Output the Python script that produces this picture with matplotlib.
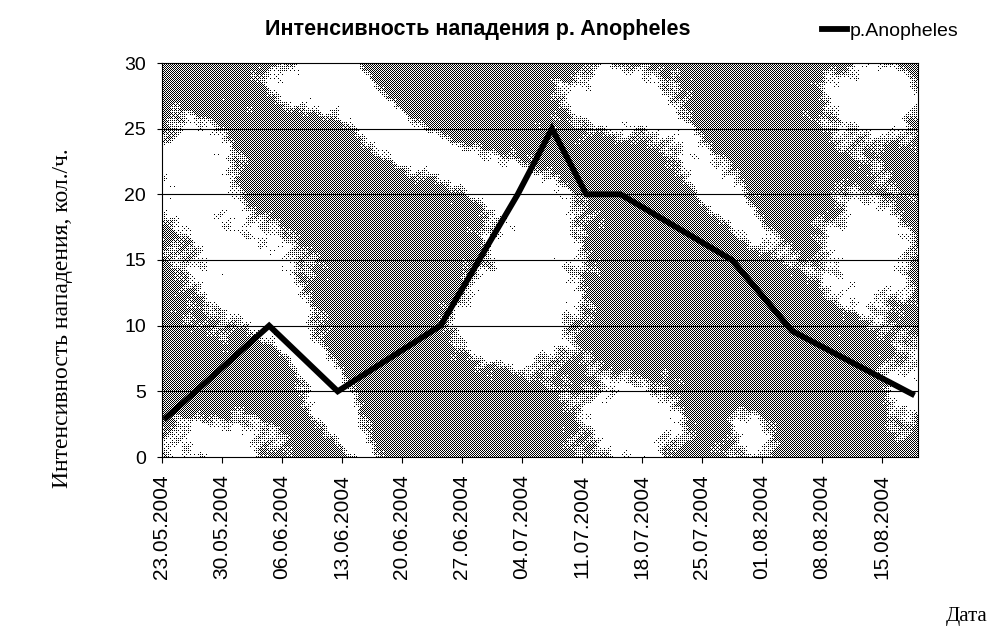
import numpy as np
import matplotlib
matplotlib.use('Agg')
from matplotlib import pyplot as plt
import matplotlib.dates as mdates

plt.rcParams['font.family'] = ['Liberation Sans', 'DejaVu Sans']

# Даты учётов и интенсивность нападения
dates = ['2004-05-23', '2004-06-04', '2004-06-12', '2004-06-24', '2004-07-03',
         '2004-07-07', '2004-07-11', '2004-07-15', '2004-07-28', '2004-08-04',
         '2004-08-18']
values = [3, 10, 5, 10, 20, 25, 20, 20, 15, 9.6, 4.8]

tick_dates = ['2004-05-23', '2004-05-30', '2004-06-06', '2004-06-13', '2004-06-20',
              '2004-06-27', '2004-07-04', '2004-07-11', '2004-07-18', '2004-07-25',
              '2004-08-01', '2004-08-08', '2004-08-15']
y_ticks = [0, 5, 10, 15, 20, 25, 30]

title = 'Интенсивность нападения р. Anopheles'
series_name = 'р.Anopheles'
y_label = 'Интенсивность нападения, кол./ч.'
x_label = 'Дата'

W, H = 993, 630
fig = plt.figure(figsize=(W / 100, H / 100), dpi=100)
ax = fig.add_axes([162 / W, 1 - 457 / H, 756 / W, 394 / H])

x = mdates.date2num(np.array(dates, dtype='datetime64[D]'))
xt = mdates.date2num(np.array(tick_dates, dtype='datetime64[D]')) - 0.5
x0 = xt[0]
x1 = x0 + 88.2


# фоновая текстура области построения (упорядоченный дизеринг)
def texture(w, h):
    yy, xx = np.mgrid[0:h, 0:w].astype(float)
    blobs = [
        # x, y, длинная ось, короткая ось, угол, сила
        (30, 105, 35, 45, 0, 1.0),
        (85, 215, 55, 50, 10, 0.9),
        (140, 20, 40, 25, 0, 0.8),
        (195, 30, 60, 16, -50, 1.0),
        (295, 100, 70, 18, -25, 1.0),
        (370, 210, 45, 70, 0, 1.0),
        (330, 265, 35, 25, 0, 0.9),
        (170, 335, 75, 18, -60, 1.0),
        (55, 380, 55, 25, 0, 0.9),
        (455, 35, 50, 30, 0, 1.0),
        (560, 130, 65, 18, -50, 1.0),
        (710, 35, 45, 35, 0, 1.0),
        (705, 190, 40, 55, 0, 1.0),
        (470, 360, 45, 40, 0, 1.0),
        (590, 375, 22, 28, 0, 0.8),
        (745, 330, 22, 38, 0, 0.8),
    ]
    f = np.zeros((h, w))
    for cx, cy, a, b, ang, s in blobs:
        t = np.deg2rad(ang)
        dx, dy = xx - cx, yy - cy
        u = dx * np.cos(t) - dy * np.sin(t)
        v = dx * np.sin(t) + dy * np.cos(t)
        f += s * np.exp(-0.5 * ((u / a) ** 2 + (v / b) ** 2))
    f += 0.12 * np.sin(xx / 4.0 + 1.7 * np.sin(yy / 6.0)) * np.cos(yy / 5.0 + xx / 13.0)
    f += 0.08 * np.sin(xx / 11.0 - yy / 8.0)
    f = np.clip((f - 0.42) / 0.3, 0, 1)
    level = 0.5 + 0.5 * f
    bayer = np.array([[0, 8, 2, 10], [12, 4, 14, 6], [3, 11, 1, 9], [15, 7, 13, 5]])
    thr = (bayer + 0.5) / 16
    return (level > thr[yy.astype(int) % 4, xx.astype(int) % 4]).astype(float)


ax.imshow(texture(756, 394), extent=(x0, x1, 0, 30), aspect='auto',
          cmap='gray', vmin=0, vmax=1, interpolation='nearest', zorder=0)

for yv in y_ticks[1:-1]:
    ax.axhline(yv, color='black', lw=0.8, zorder=1)

ax.plot(x, values, color='black', lw=4.2, solid_joinstyle='miter', label=series_name, zorder=3)

ax.set_xlim(x0, x1)
ax.set_ylim(0, 30)
ax.set_xticks(xt)
ax.set_xticklabels([np.datetime64(d).astype(object).strftime('%d.%m.%Y') for d in tick_dates],
                   rotation=90, fontsize=15)
ax.set_yticks(y_ticks)
ax.set_yticklabels([str(v) for v in y_ticks], fontsize=14)
ax.tick_params(axis='x', direction='out', length=4.5, width=0.8, pad=8)
ax.tick_params(axis='y', direction='out', length=3.6, width=0.8, pad=8)
for sp in ax.spines.values():
    sp.set_linewidth(0.8)
    sp.set_color('black')

fig.text(478 / W, 1 - 30 / H, title, ha='center', va='center', fontsize=15.5, fontweight='bold')
fig.text(63 / W, 1 - 318 / H, y_label, rotation=90, ha='center', va='center',
         fontsize=17, family=['Liberation Serif', 'DejaVu Serif'])
fig.text(967 / W, 1 - 617 / H, x_label, ha='center', va='center', fontsize=15,
         family=['Liberation Serif', 'DejaVu Serif'])

ax.legend(loc='center left', bbox_to_anchor=(822 / W, 1 - 31 / H), bbox_transform=fig.transFigure,
          frameon=False, fontsize=14, handlelength=1.3, handletextpad=0.1, borderpad=0,
          borderaxespad=0)

fig.savefig('out.png', dpi=100)
